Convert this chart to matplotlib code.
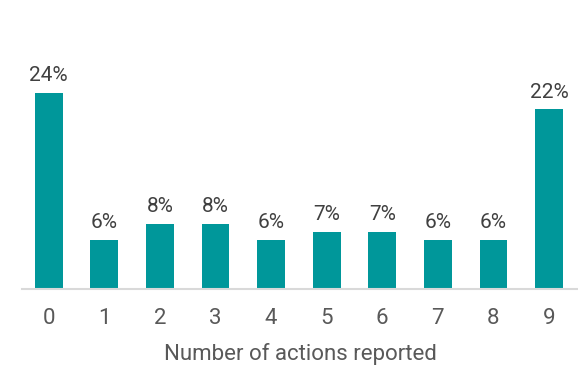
import numpy as np
import matplotlib
matplotlib.use('Agg')
import matplotlib.pyplot as plt

plt.rcParams['font.family'] = ['Roboto', 'DejaVu Sans']

# share of respondents by number of actions reported
actions = ['0', '1', '2', '3', '4', '5', '6', '7', '8', '9']
shares = [24, 6, 8, 8, 6, 7, 7, 6, 6, 22]

bar_color = '#00979A'
text_color = '#404040'
axis_text = '#595959'

fig = plt.figure(figsize=(5.78, 3.66), dpi=100)
ax = fig.add_axes([22 / 578, 77 / 366, 556 / 578, 250 / 366])

x = np.arange(len(actions))
bars = ax.bar(x, shares, width=0.5, color=bar_color)

for rect, v in zip(bars, shares):
    ax.annotate('%d%%' % v, (rect.get_x() + rect.get_width() / 2, rect.get_height()),
                xytext=(0, 5.5), textcoords='offset points',
                ha='center', va='bottom', fontsize=15, color=text_color)

ax.set_xlim(-0.48, 9.52)
ax.set_ylim(0, 250 / 8.17)
ax.set_xticks(x)
ax.set_xticklabels(actions, fontsize=16, color=axis_text)
ax.tick_params(axis='x', length=0, pad=13.5)
ax.set_yticks([])
ax.set_xlabel('Number of actions reported', fontsize=16, color=axis_text, labelpad=10)

for side in ['top', 'right', 'left']:
    ax.spines[side].set_visible(False)
ax.spines['bottom'].set_color('#d9d9d9')
ax.spines['bottom'].set_linewidth(1.5)

plt.savefig('out.png', dpi=100)
